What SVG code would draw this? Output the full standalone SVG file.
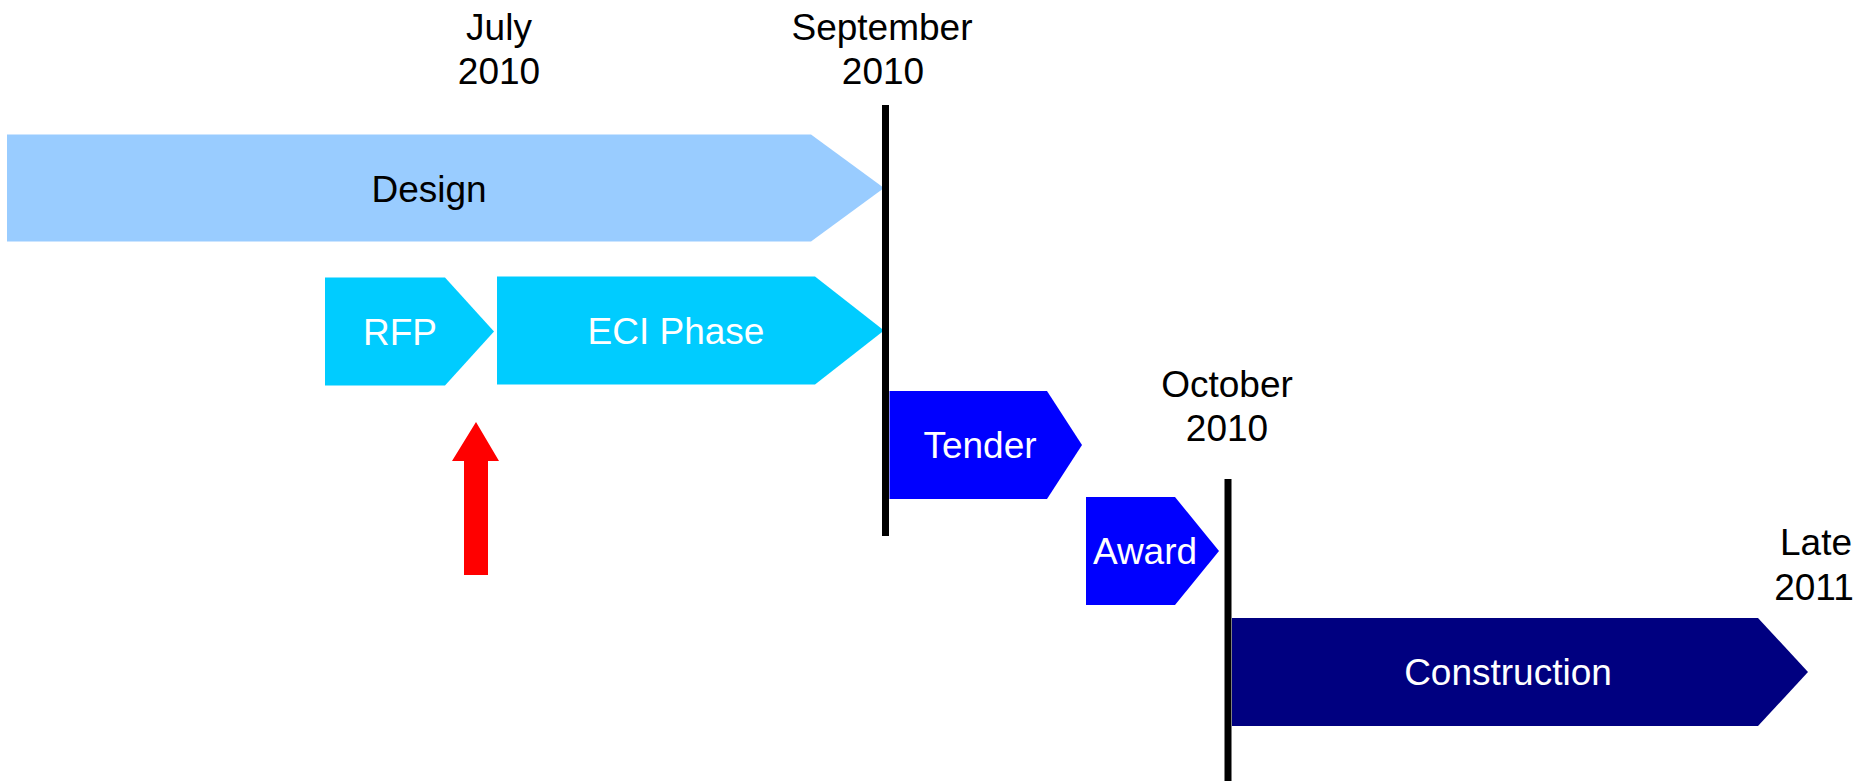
<svg xmlns="http://www.w3.org/2000/svg" width="1866" height="781" viewBox="0 0 1866 781">
<style>
text{font-family:"Liberation Sans",Arial,sans-serif;font-size:37px;text-anchor:middle}
.dk{fill:#000}
.wt{fill:#fff}
.ln{stroke:#000;stroke-width:7;fill:none}
</style>
<rect width="1866" height="781" fill="#fff"/>
<g id="design"><polygon points="7,134.5 811,134.5 884,188 811,241.5 7,241.5" fill="#99CCFF"/><text class="dk" x="429" y="202">Design</text></g>
<g id="rfp"><polygon points="325,277.5 445,277.5 494,331.5 445,385.5 325,385.5" fill="#00CCFF"/><text class="wt" x="400" y="345">RFP</text></g>
<g id="eci"><polygon points="497,276.5 815,276.5 884,330.5 815,384.5 497,384.5" fill="#00CCFF"/><text class="wt" x="676" y="344">ECI Phase</text></g>
<g id="tender"><polygon points="889.5,391 1047,391 1082,445 1047,499 889.5,499" fill="#0000FF"/><text class="wt" x="980" y="458">Tender</text></g>
<g id="award"><polygon points="1086,497 1175,497 1219,551 1175,605 1086,605" fill="#0000FF"/><text class="wt" x="1145" y="564">Award</text></g>
<g id="construction"><polygon points="1232,618 1758,618 1808,672 1758,726 1232,726" fill="#000080"/><text class="wt" x="1508" y="685">Construction</text></g>
<g id="july"><text class="dk" x="499" y="40">July</text><text class="dk" x="499" y="84">2010</text></g>
<g id="september"><text class="dk" x="882" y="40">September</text><text class="dk" x="883" y="84">2010</text></g>
<g id="october"><text class="dk" x="1227" y="397">October</text><text class="dk" x="1227" y="441">2010</text></g>
<g id="late"><text class="dk" x="1816" y="555">Late</text><text class="dk" x="1814" y="600">2011</text></g>
<g id="marker-arrow"><polygon points="476,422 499,461 488,461 488,575 464,575 464,461 452,461" fill="#FF0000"/></g>
<g id="connectors">
<line class="ln" x1="885.5" y1="105" x2="885.5" y2="536"/>
<line class="ln" x1="1228" y1="479" x2="1228" y2="781"/>
</g>
</svg>
